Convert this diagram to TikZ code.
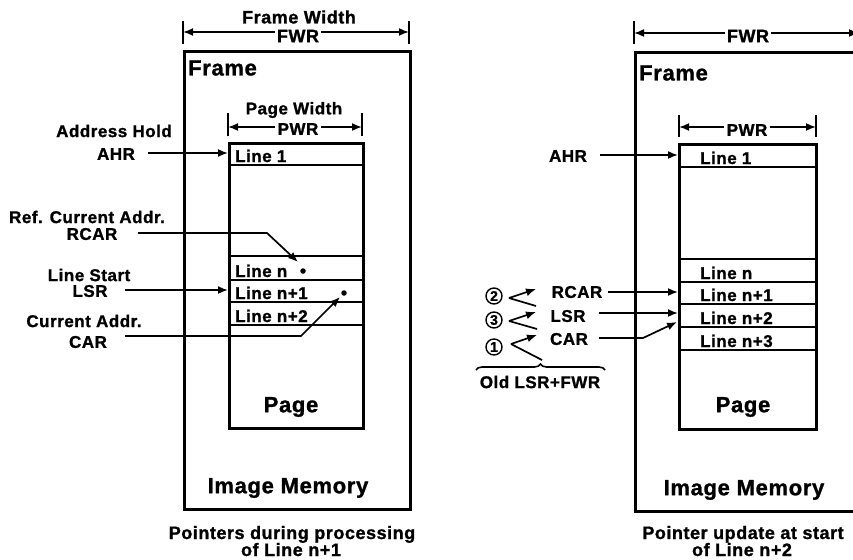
\documentclass[tikz,border=0pt]{standalone}
\usepackage{fontspec}
\setmainfont{Liberation Sans}[LetterSpace=3, BoldFeatures={FakeBold=1.2}]
\usetikzlibrary{arrows.meta,decorations.pathreplacing}
\begin{document}
\begin{tikzpicture}[x=1pt,y=-1pt,
  sm/.style={font=\fontsize{17}{18}\selectfont\bfseries, inner sep=1pt},
  md/.style={font=\fontsize{18}{20}\selectfont\bfseries, inner sep=1pt},
  big/.style={font=\fontsize{22}{24}\selectfont\bfseries, inner sep=1pt},
  linelbl/.style={sm, anchor=base west, inner sep=0pt},
  boxthick/.style={draw, line width=2.8pt, anchor=north west, inner sep=0pt},
  rowline/.style={line width=1.7pt},
  wire/.style={line width=1.7pt},
  arr/.style={line width=1.7pt, -{Latex[length=10pt,width=8pt]}},
  dimtick/.style={line width=1.9pt},
  ptdot/.style={circle, fill, inner sep=0pt, minimum size=5.5pt},
  circnum/.style={circle, draw, line width=1.4pt, inner sep=0pt, minimum size=16pt, font=\fontsize{14}{14}\selectfont\bfseries},
  brc/.style={line width=1.6pt, decorate, decoration={brace, amplitude=6pt}},
]
\useasboundingbox (0,0) rectangle (853,559);
\clip (0,0) rectangle (853,559);

% ================= LEFT =================
\node[boxthick, minimum width=226pt, minimum height=458pt] (frameL) at (183,50) {};
\node[big, anchor=west] (frameTxtL) at (187,68) {Frame};
% frame width dimension
\node[md] (fwTitleL) at (299,17) {Frame Width};
\node[md, fill=white, inner sep=2pt] (fwrL) at (298,36) {FWR};
\coordinate (fwAL) at (183,32);
\coordinate (fwBL) at (409,32);
\draw[dimtick] (183,21) -- (183,44);
\draw[dimtick] (409,21) -- (409,44);
\draw[arr] (fwrL.west |- fwAL) -- (fwAL);
\draw[arr] (fwrL.east |- fwBL) -- (fwBL);
% page
\node[boxthick, minimum width=134pt, minimum height=285pt] (pageL) at (228,142) {};
\node[sm] (pwTitleL) at (294,110) {Page Width};
\node[sm, fill=white, inner sep=2pt] (pwrL) at (298,129) {PWR};
\coordinate (pwAL) at (228,127);
\coordinate (pwBL) at (362,127);
\draw[dimtick] (228,113) -- (228,136);
\draw[dimtick] (362,113) -- (362,136);
\draw[arr] (pwrL.west |- pwAL) -- (pwAL);
\draw[arr] (pwrL.east |- pwBL) -- (pwBL);
% rows
\draw[rowline] (228,165) -- (362,165);
\draw[rowline] (228,256) -- (362,256);
\draw[rowline] (228,280) -- (362,280);
\draw[rowline] (228,302) -- (362,302);
\draw[rowline] (228,325) -- (362,325);
\node[linelbl] (l1L) at (235,162) {Line 1};
\node[linelbl] (lnL) at (235,277) {Line n};
\node[linelbl] (ln1L) at (235,299) {Line n+1};
\node[linelbl] (ln2L) at (235,322) {Line n+2};
\node[ptdot] (dotA) at (303,271) {};
\node[ptdot] (dotB) at (344,293) {};
\node[big] (pageTxtL) at (291,407) {Page};
\node[big] (imTxtL) at (288,488) {Image Memory};
\node[md, anchor=base] (capL1) at (292,539) {Pointers during processing};
\node[md, anchor=base] (capL2) at (291,556) {of Line n+1};
% pointer labels
\node[sm] (addrHold) at (114,131) {Address Hold};
\node[sm] (ahrL) at (116,154) {AHR};
\coordinate (ahrSL) at (148,153);
\draw[arr] (ahrSL) -- (ahrSL -| pageL.west);
\node[sm] (refCur) at (87,217) {Ref. Current Addr.};
\node[sm] (rcarL) at (92,234) {RCAR};
\coordinate (rcarSL) at (138,233);
\coordinate (rcarBL) at (267,233);
\coordinate (rcarTL) at (298,262);
\draw[arr] (rcarSL) -- (rcarBL) -- (rcarTL);
\node[sm] (lineStart) at (89,275) {Line Start};
\node[sm] (lsrL) at (90,291) {LSR};
\coordinate (lsrSL) at (125,290);
\draw[arr] (lsrSL) -- (lsrSL -| pageL.west);
\node[sm] (curAddr) at (84,321) {Current Addr.};
\node[sm] (carL) at (88,342) {CAR};
\coordinate (carSL) at (125,336);
\coordinate (carBL) at (301,336);
\coordinate (carTL) at (340,297);
\draw[arr] (carSL) -- (carBL) -- (carTL);

% ================= RIGHT =================
\node[boxthick, minimum width=225pt, minimum height=459pt] (frameR) at (634,51) {};
\node[big, anchor=west] (frameTxtR) at (638,73) {Frame};
\node[md, fill=white, inner sep=2pt] (fwrR) at (748,36) {FWR};
\coordinate (fwAR) at (634,33);
\coordinate (fwBR) at (859,33);
\draw[dimtick] (634,21) -- (634,44);
\draw[dimtick] (859,21) -- (859,44);
\draw[arr] (fwrR.west |- fwAR) -- (fwAR);
\draw[arr] (fwrR.east |- fwBR) -- (fwBR);
\node[boxthick, minimum width=137pt, minimum height=285pt] (pageR) at (678,143) {};
\node[sm, fill=white, inner sep=2pt] (pwrR) at (747,130) {PWR};
\coordinate (pwAR) at (679,127);
\coordinate (pwBR) at (816,127);
\draw[dimtick] (679,115) -- (679,137);
\draw[dimtick] (816,115) -- (816,137);
\draw[arr] (pwrR.west |- pwAR) -- (pwAR);
\draw[arr] (pwrR.east |- pwBR) -- (pwBR);
\draw[rowline] (678,167) -- (815,167);
\draw[rowline] (678,259) -- (815,259);
\draw[rowline] (678,282) -- (815,282);
\draw[rowline] (678,304) -- (815,304);
\draw[rowline] (678,327) -- (815,327);
\draw[rowline] (678,350) -- (815,350);
\node[linelbl] (l1R) at (700,164) {Line 1};
\node[linelbl] (lnR) at (700,279) {Line n};
\node[linelbl] (ln1R) at (700,301) {Line n+1};
\node[linelbl] (ln2R) at (700,324) {Line n+2};
\node[linelbl] (ln3R) at (700,347) {Line n+3};
\node[big] (pageTxtR) at (743,407) {Page};
\node[big] (imTxtR) at (744,490) {Image Memory};
\node[md, anchor=base] (capR1) at (743,539) {Pointer update at start};
\node[md, anchor=base] (capR2) at (742,556) {of Line n+2};
% pointers
\node[sm] (ahrR) at (568,156) {AHR};
\coordinate (ahrSR) at (600,155);
\draw[arr] (ahrSR) -- (ahrSR -| pageR.west);
\node[sm] (rcarR) at (577,292) {RCAR};
\coordinate (rcarSR) at (608,292);
\draw[arr] (rcarSR) -- (rcarSR -| pageR.west);
\node[sm] (lsrR) at (568,316) {LSR};
\coordinate (lsrSR) at (599,313);
\draw[arr] (lsrSR) -- (lsrSR -| pageR.west);
\node[sm] (carR) at (569,339) {CAR};
\coordinate (carSR) at (599,338);
\coordinate (carBR) at (643,338);
\coordinate (carTR) at (677,322);
\draw[arr] (carSR) -- (carBR) -- (carTR);
% update order
\node[circnum] (c2) at (494,296) {2};
\node[circnum] (c3) at (494,320) {3};
\node[circnum] (c1) at (494,347) {1};
\coordinate (v2) at (509,298);
\coordinate (t2) at (536,289);
\coordinate (e2) at (536,306);
\coordinate (v3) at (509,321);
\coordinate (t3) at (536,312);
\coordinate (e3) at (537,329);
\coordinate (v1) at (511,344);
\coordinate (t1) at (537,335);
\coordinate (e1) at (542,360);
\draw[arr] (v2) -- (t2); \draw[wire] (v2) -- (e2);
\draw[arr] (v3) -- (t3); \draw[wire] (v3) -- (e3);
\draw[arr] (v1) -- (t1); \draw[wire] (v1) -- (e1);
\coordinate (brA) at (476,370);
\coordinate (brB) at (605,370);
\draw[brc] (brA) -- (brB);
\node[sm] (oldTxt) at (540,382) {Old LSR+FWR};
\end{tikzpicture}
\end{document}
